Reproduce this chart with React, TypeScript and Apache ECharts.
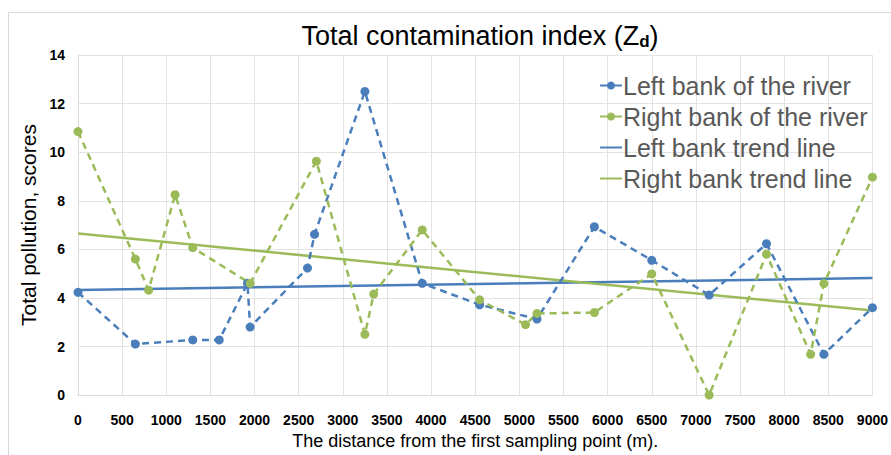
import React, { useEffect, useRef } from "react";
import * as echarts from "echarts";

const xTicks = { min: 0, max: 9000, interval: 500 };
const yTicks = { min: 0, max: 14, interval: 2 };

const leftBankX = [0, 650, 1300, 1600, 1920, 1950, 2600, 2680, 3250, 3900, 4550, 5200, 5850, 6500, 7150, 7800, 8450, 9000];
const leftBankY = [4.23, 2.1, 2.27, 2.27, 4.6, 2.8, 5.23, 6.62, 12.5, 4.6, 3.72, 3.13, 6.93, 5.55, 4.12, 6.23, 1.68, 3.6];

const rightBankX = [0, 650, 800, 1100, 1300, 1950, 2700, 3250, 3350, 3900, 4550, 5070, 5200, 5850, 6500, 7150, 7800, 8300, 8450, 9000];
const rightBankY = [10.85, 5.6, 4.32, 8.25, 6.07, 4.6, 9.63, 2.5, 4.16, 6.8, 3.92, 2.9, 3.36, 3.4, 4.99, 0, 5.8, 1.68, 4.59, 8.97];

const leftTrendX = [0, 9000];
const leftTrendY = [4.33, 4.82];
const rightTrendX = [0, 9000];
const rightTrendY = [6.65, 3.48];

const seriesNames = [
  "Left bank of the river",
  "Right bank of the river",
  "Left bank trend line",
  "Right bank trend line",
];

const BLUE = "#4a7ebb";
const GREEN = "#9bbb59";
const FONT = "'Liberation Sans', Arial, sans-serif";

const zip = (xs: number[], ys: number[]) => xs.map((x, i) => [x, ys[i]]);

export default function App() {
  const ref = useRef<HTMLDivElement>(null);
  useEffect(() => {
    if (!ref.current) return;
    const chart = echarts.init(ref.current, null, { renderer: "svg" });
    const axisLabel = { fontFamily: FONT, fontSize: 14, fontWeight: "bold" as const, color: "#000" };
    chart.setOption({
      animation: false,
      backgroundColor: "#fff",
      graphic: [
        {
          type: "rect",
          shape: { x: 8.5, y: 12.5, width: 900, height: 460 },
          style: { fill: "none", stroke: "#d9d9d9", lineWidth: 1 },
          silent: true,
        },
      ],
      title: {
        text: "Total contamination index (Z{sub|d})",
        left: 475,
        textAlign: "center",
        top: 16,
        textStyle: {
          fontFamily: FONT,
          fontSize: 27,
          fontWeight: "normal",
          color: "#000",
          rich: {
            sub: { fontFamily: FONT, fontSize: 17, fontWeight: "bold", color: "#000", verticalAlign: "bottom", padding: [12, 0, 0, 0] },
          },
        },
      },
      legend: {
        orient: "vertical",
        left: 594,
        top: 68,
        itemWidth: 22,
        itemHeight: 10,
        itemGap: 6,
        data: [
          { name: seriesNames[0] },
          { name: seriesNames[1] },
          { name: seriesNames[2], itemStyle: { opacity: 0 } },
          { name: seriesNames[3], itemStyle: { opacity: 0 } },
        ],
        textStyle: { fontFamily: FONT, fontSize: 25, color: "#595959", lineHeight: 22, padding: [0, 0, 0, -4] },
        lineStyle: { type: "solid" },
      },
      grid: { left: 78, right: 15, top: 55, bottom: 51 },
      xAxis: {
        type: "value",
        ...xTicks,
        name: "The distance from the first sampling point (m).",
        nameLocation: "middle",
        nameGap: 36,
        nameTextStyle: { fontFamily: FONT, fontSize: 18, color: "#000" },
        axisLine: { show: true, lineStyle: { color: "#d9d9d9" } },
        axisTick: { show: false },
        axisLabel: { ...axisLabel, margin: 18, formatter: (v: number) => String(v) },
        splitLine: { show: true, lineStyle: { color: "#e3e3e3" } },
      },
      yAxis: {
        type: "value",
        ...yTicks,
        name: "Total pollution, scores",
        nameLocation: "middle",
        nameGap: 34,
        nameTextStyle: { fontFamily: FONT, fontSize: 21, color: "#000" },
        axisLine: { show: true, lineStyle: { color: "#d9d9d9" } },
        axisTick: { show: false },
        axisLabel: { ...axisLabel, margin: 13 },
        splitLine: { show: true, lineStyle: { color: "#e3e3e3" } },
      },
      series: [
        {
          name: seriesNames[0],
          type: "line",
          data: zip(leftBankX, leftBankY),
          symbol: "circle",
          symbolSize: 9,
          itemStyle: { color: BLUE },
          lineStyle: { color: BLUE, width: 2.5, type: [7, 5] },
          z: 3,
        },
        {
          name: seriesNames[1],
          type: "line",
          data: zip(rightBankX, rightBankY),
          symbol: "circle",
          symbolSize: 9,
          itemStyle: { color: GREEN },
          lineStyle: { color: GREEN, width: 2.5, type: [7, 5] },
          z: 3,
        },
        {
          name: seriesNames[2],
          type: "line",
          data: zip(leftTrendX, leftTrendY),
          symbol: "none",
          itemStyle: { color: BLUE },
          lineStyle: { color: BLUE, width: 2.5 },
          z: 2,
        },
        {
          name: seriesNames[3],
          type: "line",
          data: zip(rightTrendX, rightTrendY),
          symbol: "none",
          itemStyle: { color: GREEN },
          lineStyle: { color: GREEN, width: 2.5 },
          z: 2,
        },
      ],
    });
    return () => chart.dispose();
  }, []);
  return (
    <div
      ref={ref}
      style={{ position: "absolute", left: 0, top: 0, width: 891, height: 455 }}
    />
  );
}
